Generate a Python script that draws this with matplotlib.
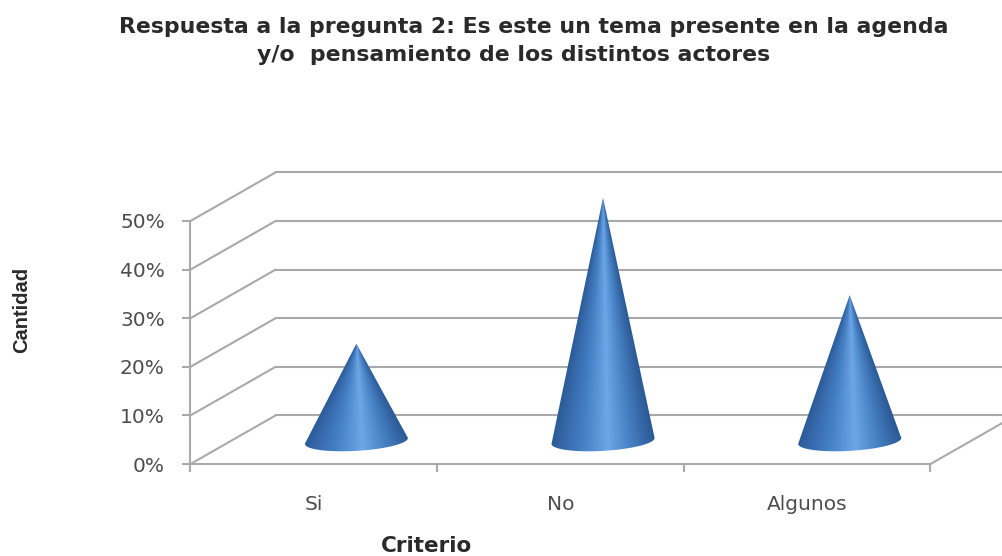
import numpy as np
import matplotlib
matplotlib.use("Agg")
import matplotlib.pyplot as plt
from matplotlib.colors import LinearSegmentedColormap
from matplotlib.path import Path
from matplotlib.patches import PathPatch

# Survey results
categories = ["Si", "No", "Algunos"]
values = [20, 50, 30]
y_ticks = [0, 10, 20, 30, 40, 50]
title_first = "Respuesta a la pregunta 2: Es este un tema presente en la agenda"
title_second = "y/o  pensamiento de los distintos actores"

GRID = "#a9a9a9"
TEXT = "#2a2a2a"
TICK_TEXT = "#4d4d4d"
W, H = 1003, 556

# Oblique depth of the 3D box, in data units
DEPTH_X = 0.345
DEPTH_Y = 10.0
CONE_HALF_W = 0.209
CONE_RISE = 5.0 * 0.95

cone_cmap = LinearSegmentedColormap.from_list(
    "cone",
    [(0.0, "#2a5a94"), (0.12, "#3668aa"), (0.32, "#4682c6"),
     (0.55, "#6ea6e6"), (0.72, "#4c88ca"), (0.9, "#3668a8"), (1.0, "#2a5a94")],
)

fig = plt.figure(figsize=(W / 100, H / 100), dpi=100, facecolor="white")
ax = fig.add_axes([190.5 / W, (H - 464) / H, 740 / W, 243 / H])
ax.set_xlim(-0.5, 2.5)
ax.set_ylim(0, 50)
ax.set_facecolor("none")

for side in ("top", "right"):
    ax.spines[side].set_visible(False)
for side in ("left", "bottom"):
    ax.spines[side].set_color(GRID)
    ax.spines[side].set_linewidth(1.5)

ax.set_yticks(y_ticks)
ax.set_yticklabels([f"{v}%" for v in y_ticks], fontfamily="DejaVu Sans",
                   fontsize=14.5, color=TICK_TEXT)
ax.set_xticks([-0.5, 0.5, 1.5, 2.5])
ax.set_xticklabels([])
ax.set_xticks(range(len(categories)), minor=True)
ax.set_xticklabels(categories, minor=True, fontfamily="DejaVu Sans",
                   fontsize=14.5, color=TICK_TEXT)
ax.tick_params(axis="both", which="major", color=GRID, width=1.5, length=5.5)
ax.tick_params(axis="y", pad=13)
ax.tick_params(axis="x", which="minor", length=0, pad=22)

# Back wall and side wall gridlines
x_left, x_right = -0.5, 2.5
for v in y_ticks:
    ax.plot([x_left, x_left + DEPTH_X], [v, v + DEPTH_Y], color=GRID, lw=1.5,
            clip_on=False, zorder=1, solid_capstyle="round")
    ax.plot([x_left + DEPTH_X, x_right + DEPTH_X], [v + DEPTH_Y] * 2, color=GRID,
            lw=1.5, clip_on=False, zorder=1)
ax.plot([x_right, x_right + DEPTH_X], [0, DEPTH_Y], color=GRID, lw=1.5,
        clip_on=False, zorder=1)


def cone_outline(xc, yc, top):
    """Outline of a cone seen from slightly above, with a tilted elliptical base."""
    t = np.linspace(0, np.pi, 60)
    bx = xc + CONE_HALF_W * np.cos(t)
    by = yc - 2.05 * np.sin(t) + 0.6 * np.cos(t)
    verts = [(xc, yc + top)] + list(zip(bx, by)) + [(xc, yc + top)]
    return Path(verts)


# Cones stand at mid depth, shaded radially from the apex
for i, val in enumerate(values):
    xc = i + DEPTH_X / 2
    yc = CONE_RISE
    xs = np.linspace(xc - CONE_HALF_W, xc + CONE_HALF_W, 220)
    ys = np.linspace(yc - 3, yc + val, 420)
    gx, gy = np.meshgrid(xs, ys)
    frac = np.clip((yc + val - gy) / val, 0.004, None)
    shade = np.clip((gx - xc) / (CONE_HALF_W * frac), -1, 1) * 0.5 + 0.5
    im = ax.imshow(shade, extent=(xs[0], xs[-1], ys[0], ys[-1]), origin="lower",
                   cmap=cone_cmap, vmin=0, vmax=1, aspect="auto", zorder=3,
                   interpolation="bilinear")
    outline = PathPatch(cone_outline(xc, yc, val), transform=ax.transData,
                        facecolor="none", edgecolor="none")
    ax.add_patch(outline)
    im.set_clip_path(outline)
    im.set_clip_box(fig.bbox)

ax.set_xlim(-0.5, 2.5)
ax.set_ylim(0, 50)

fig.text(534 / W, 1 - 27 / H, title_first, ha="center", va="center",
         fontfamily="DejaVu Sans", fontweight="bold", fontsize=15.8, color=TEXT)
fig.text(514 / W, 1 - 55 / H, title_second, ha="center", va="center",
         fontfamily="DejaVu Sans", fontweight="bold", fontsize=15.8, color=TEXT)
fig.text(427 / W, 1 - 546 / H, "Criterio", ha="center", va="center",
         fontfamily="DejaVu Sans", fontweight="bold", fontsize=15.5, color=TEXT)
fig.text(22 / W, 1 - 310 / H, "Cantidad", ha="center", va="center", rotation=90,
         fontfamily="Liberation Sans", fontweight="bold", fontsize=14.5, color=TEXT)

fig.savefig("out.png", dpi=100, facecolor="white")
